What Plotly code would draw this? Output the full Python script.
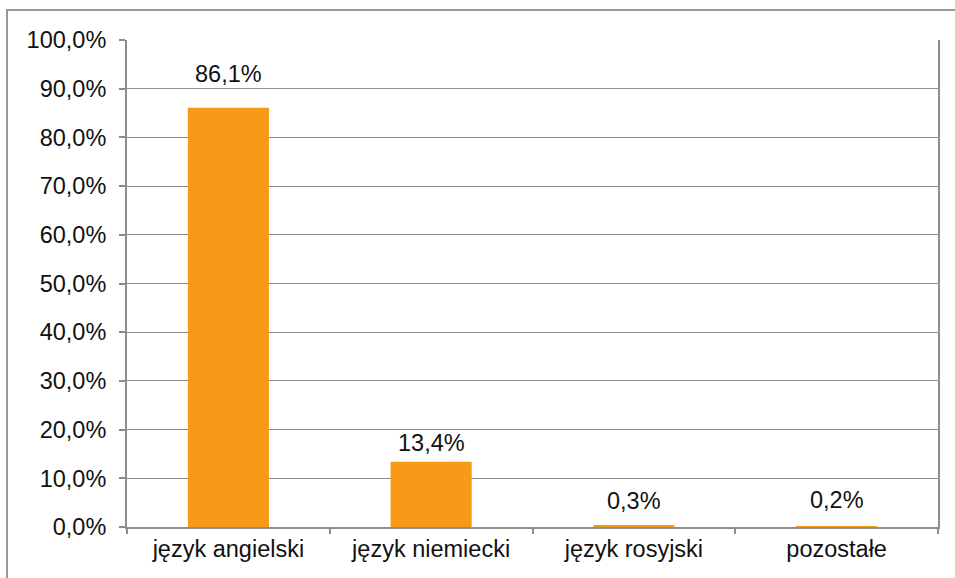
import plotly.graph_objects as go

categories = ["język angielski", "język niemiecki", "język rosyjski", "pozostałe"]
values = [0.861, 0.134, 0.003, 0.002]
tick_vals = [0.0, 0.1, 0.2, 0.3, 0.4, 0.5, 0.6, 0.7, 0.8, 0.9, 1.0]
label_offsets = [34, 19, 25, 26]  # pixel lift of each data label above its bar

GRAY = "#8c8c8c"
FONT = "Liberation Sans, Arial, sans-serif"
FS = 23.5

fig = go.Figure(go.Bar(
    x=categories, y=values,
    marker=dict(color="#F79A17", line=dict(width=0)),
    hoverinfo="x+y",
))

annotations = []
for c, v, off in zip(categories, values, label_offsets):
    annotations.append(dict(
        x=c, y=v, xref="x", yref="y",
        text=f"{v*100:.1f}%".replace(".", ","),
        showarrow=False, yanchor="middle", xanchor="center",
        yshift=off, font=dict(size=FS, color="#111111", family=FONT),
    ))

fig.update_layout(
    width=955, height=578,
    margin=dict(l=127, r=17, t=40, b=51),
    paper_bgcolor="white", plot_bgcolor="white",
    separators=", ",
    bargap=0.6,
    showlegend=False,
    font=dict(family=FONT, size=FS, color="#111111"),
    annotations=annotations,
    xaxis=dict(
        tickson="boundaries", ticks="outside", ticklen=5, tickcolor=GRAY, tickwidth=1.5,
        showline=True, linecolor=GRAY, linewidth=2,
        showgrid=False, tickfont=dict(size=FS, color="#111111"),
    ),
    yaxis=dict(
        range=[0, 1.0], tickvals=tick_vals, tickformat=".1%",
        ticks="outside", ticklen=6, tickcolor=GRAY, tickwidth=1.5,
        ticklabelstandoff=8,
        showline=True, linecolor=GRAY, linewidth=2, mirror=True,
        showgrid=True, gridcolor=GRAY, gridwidth=1.2,
        zeroline=False, tickfont=dict(size=FS, color="#111111"),
    ),
    shapes=[dict(
        type="rect", xref="paper", yref="paper",
        x0=(7 - 127) / 811, x1=(965 - 127) / 811,
        y0=-(590 - 527) / 487, y1=1 + 30 / 487,
        line=dict(color="#999999", width=2), fillcolor="rgba(0,0,0,0)", layer="below",
    )],
)

fig.write_html("out.html", config={"displayModeBar": False},
               post_script="document.body.style.margin='0';")
